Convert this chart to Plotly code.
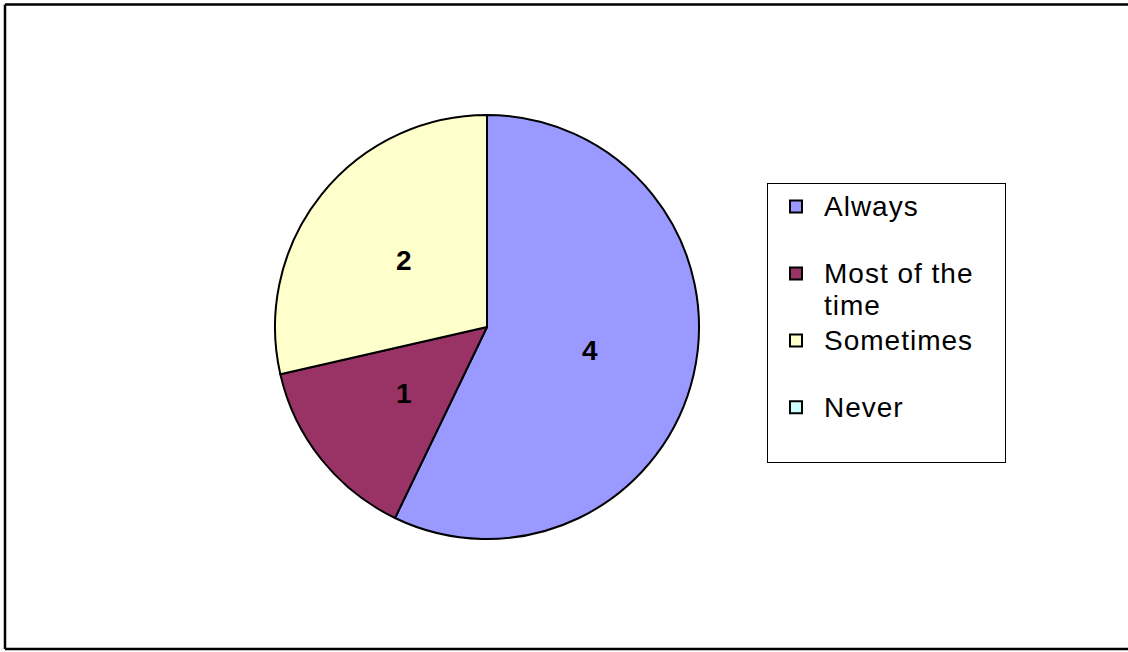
import math
import plotly.graph_objects as go

categories = ["Always", "Most of the time", "Sometimes", "Never"]
counts = [4, 1, 2, 0]
slice_colors = ["#9999FF", "#993366", "#FFFFCC", "#CCFFFF"]

# legend display text (wrapped like the original, padded to two lines each)
legend_text = {
    "Always": "Always<br>&nbsp;",
    "Most of the time": "Most of the<br>time",
    "Sometimes": "Sometimes&nbsp;&nbsp;&nbsp;<br>&nbsp;",
    "Never": "Never<br>&nbsp;",
}
LEG_FS = 28
labels = [
    "<br>".join(
        f"<span style='font-size:{LEG_FS}px;letter-spacing:1px'>{part}</span>"
        for part in legend_text[c].split("<br>")
    )
    for c in categories
]

W, H = 1128, 652
cx, cy, R = 487, 327, 212
label_r = 0.5  # fraction of radius where value labels sit

fig = go.Figure(
    go.Pie(
        labels=labels,
        values=counts,
        sort=False,
        direction="clockwise",
        rotation=0,
        marker=dict(colors=slice_colors, line=dict(color="black", width=2)),
        textinfo="none",
        hoverinfo="value",
        domain=dict(x=[(cx - R) / W, (cx + R) / W], y=[(H - cy - R) / H, (H - cy + R) / H]),
        showlegend=True,
    )
)

# value labels at mid-angle of each slice (computed from the data)
total = sum(counts)
annotations = []
cum = 0
for cat, v in zip(categories, counts):
    if v > 0:
        mid = (cum + v / 2) / total * 2 * math.pi
        px = cx + label_r * R * math.sin(mid)
        py = cy - label_r * R * math.cos(mid)
        annotations.append(dict(
            x=px / W, y=(H - py) / H, xref="paper", yref="paper",
            text=f"<b>{v}</b>", showarrow=False,
            font=dict(family="Arial, Liberation Sans, sans-serif", size=28, color="black"),
            xanchor="center", yanchor="middle",
        ))
    cum += v

fig.update_layout(
    width=W,
    height=H,
    margin=dict(l=0, r=0, t=0, b=0),
    paper_bgcolor="white",
    plot_bgcolor="white",
    font=dict(family="Arial, Liberation Sans, sans-serif", color="black"),
    annotations=annotations,
    legend=dict(
        x=767 / W,
        y=(H - 183) / H,
        xanchor="left",
        yanchor="top",
        bgcolor="white",
        bordercolor="black",
        borderwidth=1,
        valign="top",
        itemwidth=46,
        font=dict(size=24.6, color="black"),
        traceorder="normal",
    ),
    shapes=[
        dict(type="line", xref="paper", yref="paper", x0=5 / W, x1=1.0, y0=(H - 4.5) / H, y1=(H - 4.5) / H,
             line=dict(color="black", width=2.5)),
        dict(type="line", xref="paper", yref="paper", x0=5 / W, x1=5 / W, y0=(H - 4.5) / H, y1=(H - 649) / H,
             line=dict(color="black", width=2.5)),
        dict(type="line", xref="paper", yref="paper", x0=5 / W, x1=1.0, y0=(H - 649) / H, y1=(H - 649) / H,
             line=dict(color="black", width=2.5)),
    ],
)

fig.write_html(
    "out.html",
    config={"displayModeBar": False},
    post_script="document.body.style.margin='0';",
)
